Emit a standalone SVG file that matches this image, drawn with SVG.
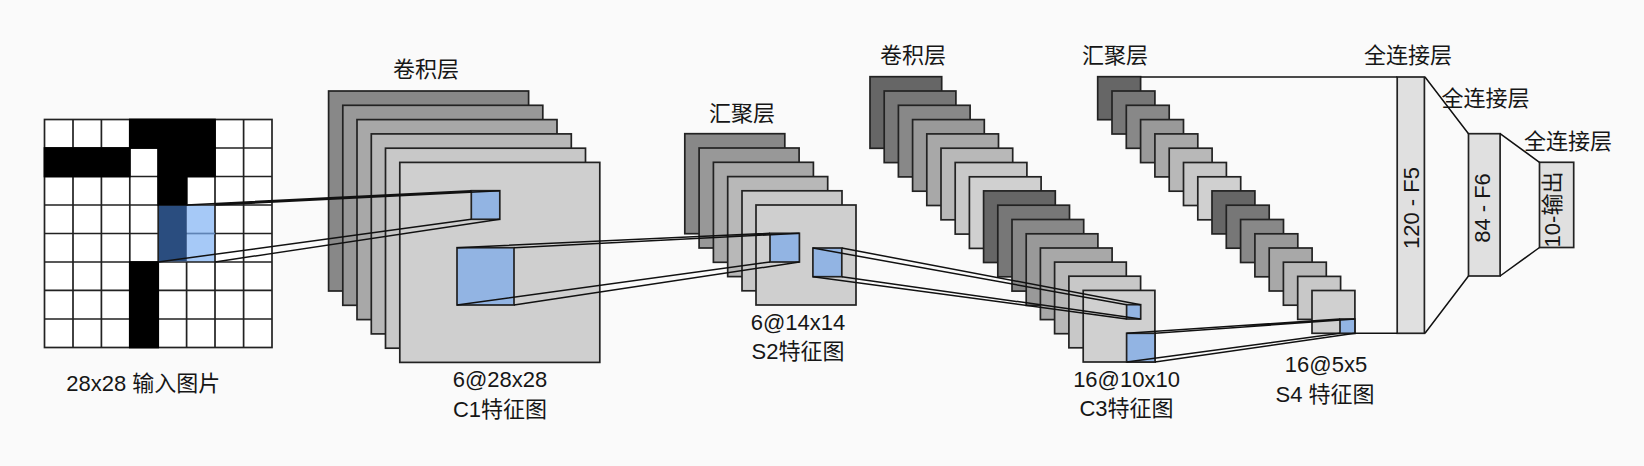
<svg xmlns="http://www.w3.org/2000/svg" width="1644" height="466" viewBox="0 0 1644 466">
<style>
text{font-family:"Liberation Sans","Noto Sans CJK SC",sans-serif;font-size:22px;fill:#161616;text-anchor:middle}
.g rect,.b{stroke:#222;stroke-width:1.7}
.c path{fill:none;stroke:#111;stroke-width:1.5}
.b{fill:#92b4e3}
.g rect.k{fill:#000;stroke:#000}
.g rect.p{stroke:none}
.n{fill:#fff}
.l0{fill:#666}.l1{fill:#777}.l2{fill:#888}.l3{fill:#999}.l4{fill:#a8a8a8}.l5{fill:#b8b8b8}.l6{fill:#c8c8c8}.l7{fill:#d0d0d0}
.f{fill:#e0e0e0}
</style>
<rect width="1644" height="466" fill="#fafafa"/>
<g id="input" class="g">
<rect class="n" x="44.5" y="119.5" width="227.5" height="228"/>
<rect class="p" fill="#a6c9f7" x="186.6" y="205" width="28.4" height="57"/>
<path d="M73 119.5V347.5M101.4 119.5V347.5M129.8 119.5V347.5M158.2 119.5V347.5M186.6 119.5V205M186.6 262V347.5M215 119.5V347.5M243.6 119.5V347.5M44.5 148H272M44.5 176.5H272M44.5 205H272M44.5 233.5H186.6M215 233.5H272M44.5 262H272M44.5 290.3H272M44.5 319H272" fill="none" stroke="#222" stroke-width="1.7"/>
<path d="M186.6 233.5H215" fill="none" stroke="#5f83b5" stroke-width="1.7"/>
<rect class="k" x="129.8" y="119.5" width="85.2" height="28.5"/>
<rect class="k" x="44.5" y="148" width="85.3" height="28.5"/>
<rect class="k" x="158.2" y="148" width="56.8" height="28.5"/>
<rect class="k" x="158.2" y="176.5" width="28.4" height="28.5"/>
<rect class="k" x="129.8" y="262" width="28.4" height="85.5"/>
<rect class="p" fill="#2a4d7f" x="159" y="205.8" width="27.8" height="55.6"/>
</g>
<text x="143.3" y="390.5">28x28 输入图片</text>
<g id="c1" class="g">
<rect fill="#888" x="328.6" y="91" width="200" height="200"/>
<rect fill="#989898" x="342.8" y="105.3" width="200" height="200"/>
<rect fill="#a8a8a8" x="357" y="119.6" width="200" height="200"/>
<rect fill="#b8b8b8" x="371.3" y="133.9" width="200" height="200"/>
<rect fill="#c8c8c8" x="385.5" y="148.2" width="200" height="200"/>
<rect fill="#cfcfcf" x="399.8" y="162.4" width="200" height="200"/>
<rect class="b" x="471.3" y="190.7" width="28.5" height="28.6"/>
<rect class="b" x="457" y="247.7" width="57" height="57.3"/>
</g>
<text x="426" y="77">卷积层</text>
<text x="500" y="387">6@28x28</text>
<text x="500" y="417">C1特征图</text>
<g id="s2" class="g">
<rect fill="#888" x="684.8" y="133.7" width="100" height="100"/>
<rect fill="#989898" x="699.1" y="148" width="100" height="100"/>
<rect fill="#a8a8a8" x="713.4" y="162.3" width="100" height="100"/>
<rect fill="#b8b8b8" x="727.7" y="176.6" width="100" height="100"/>
<rect fill="#c8c8c8" x="742" y="190.8" width="100" height="100"/>
<rect fill="#cfcfcf" x="756" y="205" width="100" height="100"/>
<rect class="b" x="770" y="233.3" width="29.4" height="28.7"/>
<rect class="b" x="812.9" y="248" width="28.9" height="28.7"/>
</g>
<text x="742" y="121">汇聚层</text>
<text x="798" y="330">6@14x14</text>
<text x="798" y="359">S2特征图</text>
<g id="c3" class="g">
<rect class="l0" x="870" y="76.7" width="71.7" height="71.6"/>
<rect class="l1" x="884.2" y="91" width="71.7" height="71.6"/>
<rect class="l2" x="898.4" y="105.3" width="71.7" height="71.6"/>
<rect class="l3" x="912.6" y="119.6" width="71.7" height="71.6"/>
<rect class="l4" x="926.8" y="133.9" width="71.7" height="71.6"/>
<rect class="l5" x="941" y="148.2" width="71.7" height="71.6"/>
<rect class="l6" x="955.2" y="162.5" width="71.7" height="71.6"/>
<rect class="l7" x="969.4" y="176.8" width="71.7" height="71.6"/>
<rect class="l0" x="983.6" y="190.9" width="71.7" height="71.6"/>
<rect class="l1" x="997.8" y="205.2" width="71.7" height="71.6"/>
<rect class="l2" x="1012" y="219.5" width="71.7" height="71.6"/>
<rect class="l3" x="1026.2" y="233.8" width="71.7" height="71.6"/>
<rect class="l4" x="1040.4" y="248" width="71.7" height="71.6"/>
<rect class="l5" x="1054.6" y="262.1" width="71.7" height="71.6"/>
<rect class="l6" x="1068.9" y="276.2" width="71.7" height="71.6"/>
<rect class="l7" x="1083.2" y="290.4" width="71.7" height="71.6"/>
<rect class="b" x="1126.6" y="304.7" width="14.1" height="14.3"/>
<rect class="b" x="1126.6" y="333.3" width="28.4" height="28.7"/>
</g>
<text x="913" y="63">卷积层</text>
<text x="1126.5" y="387">16@10x10</text>
<text x="1126.5" y="416">C3特征图</text>
<g id="s4" class="g">
<rect class="l0" x="1097.7" y="76.7" width="42.9" height="43"/>
<rect class="l1" x="1112" y="91" width="42.9" height="43"/>
<rect class="l2" x="1126.3" y="105.3" width="42.9" height="43"/>
<rect class="l3" x="1140.6" y="119.6" width="42.9" height="43"/>
<rect class="l4" x="1154.9" y="133.9" width="42.9" height="43"/>
<rect class="l5" x="1169.2" y="148.2" width="42.9" height="43"/>
<rect class="l6" x="1183.5" y="162.5" width="42.9" height="43"/>
<rect class="l7" x="1197.8" y="176.8" width="42.9" height="43"/>
<rect class="l0" x="1212" y="190.9" width="42.9" height="43"/>
<rect class="l1" x="1226.3" y="205.2" width="42.9" height="43"/>
<rect class="l2" x="1240.6" y="219.5" width="42.9" height="43"/>
<rect class="l3" x="1254.9" y="233.8" width="42.9" height="43"/>
<rect class="l4" x="1269.2" y="248" width="42.9" height="43"/>
<rect class="l5" x="1283.4" y="262.2" width="42.9" height="43"/>
<rect class="l6" x="1297.7" y="276.4" width="42.9" height="43"/>
<rect class="l7" x="1312" y="290.5" width="42.9" height="42.8"/>
<rect class="b" x="1340" y="319" width="14.9" height="14.3"/>
</g>
<text x="1115" y="63">汇聚层</text>
<text x="1326" y="372">16@5x5</text>
<text x="1325" y="402">S4 特征图</text>
<g id="f5" class="g"><rect class="f" x="1397.2" y="77" width="27.2" height="256.3"/></g>
<text transform="translate(1419.3 208) rotate(-90)">120 - F5</text>
<text x="1408" y="63">全连接层</text>
<g id="f6" class="g"><rect class="f" x="1468.5" y="133.7" width="31.6" height="142.3"/></g>
<text transform="translate(1490.3 208) rotate(-90)">84 - F6</text>
<text x="1485.5" y="106">全连接层</text>
<g id="output" class="g"><rect class="f" x="1539.5" y="162.3" width="34.2" height="85.2"/></g>
<text transform="translate(1560 209.5) rotate(-90)">10-输出</text>
<text x="1568" y="149">全连接层</text>
<g id="connectors" class="c">
<path d="M186.6 205L471.3 190.7M215 205L499.8 190.7M158.2 262L471.3 219.3M215 262L499.8 219.3"/>
<path d="M457 247.7L770 233.3M514 247.7L799.4 233.3M457 305L770 262M514 305L799.4 262"/>
<path d="M812.9 248L1126.6 304.7M841.8 248L1140.7 304.7M812.9 276.7L1126.6 319M841.8 276.7L1140.7 319"/>
<path d="M1126.6 333.3L1340 319M1155 333.3L1354.9 319M1126.6 362L1340 333.3M1155 362L1354.9 333.3"/>
<path d="M1140.6 77H1397.2M1354.9 333.3H1397.2"/>
<path d="M1425 77L1468.5 133.7M1425 333.3L1468.5 276"/>
<path d="M1500.1 133.7L1539.5 162.3M1500.1 276L1539.5 247.5"/>
</g>
</svg>
